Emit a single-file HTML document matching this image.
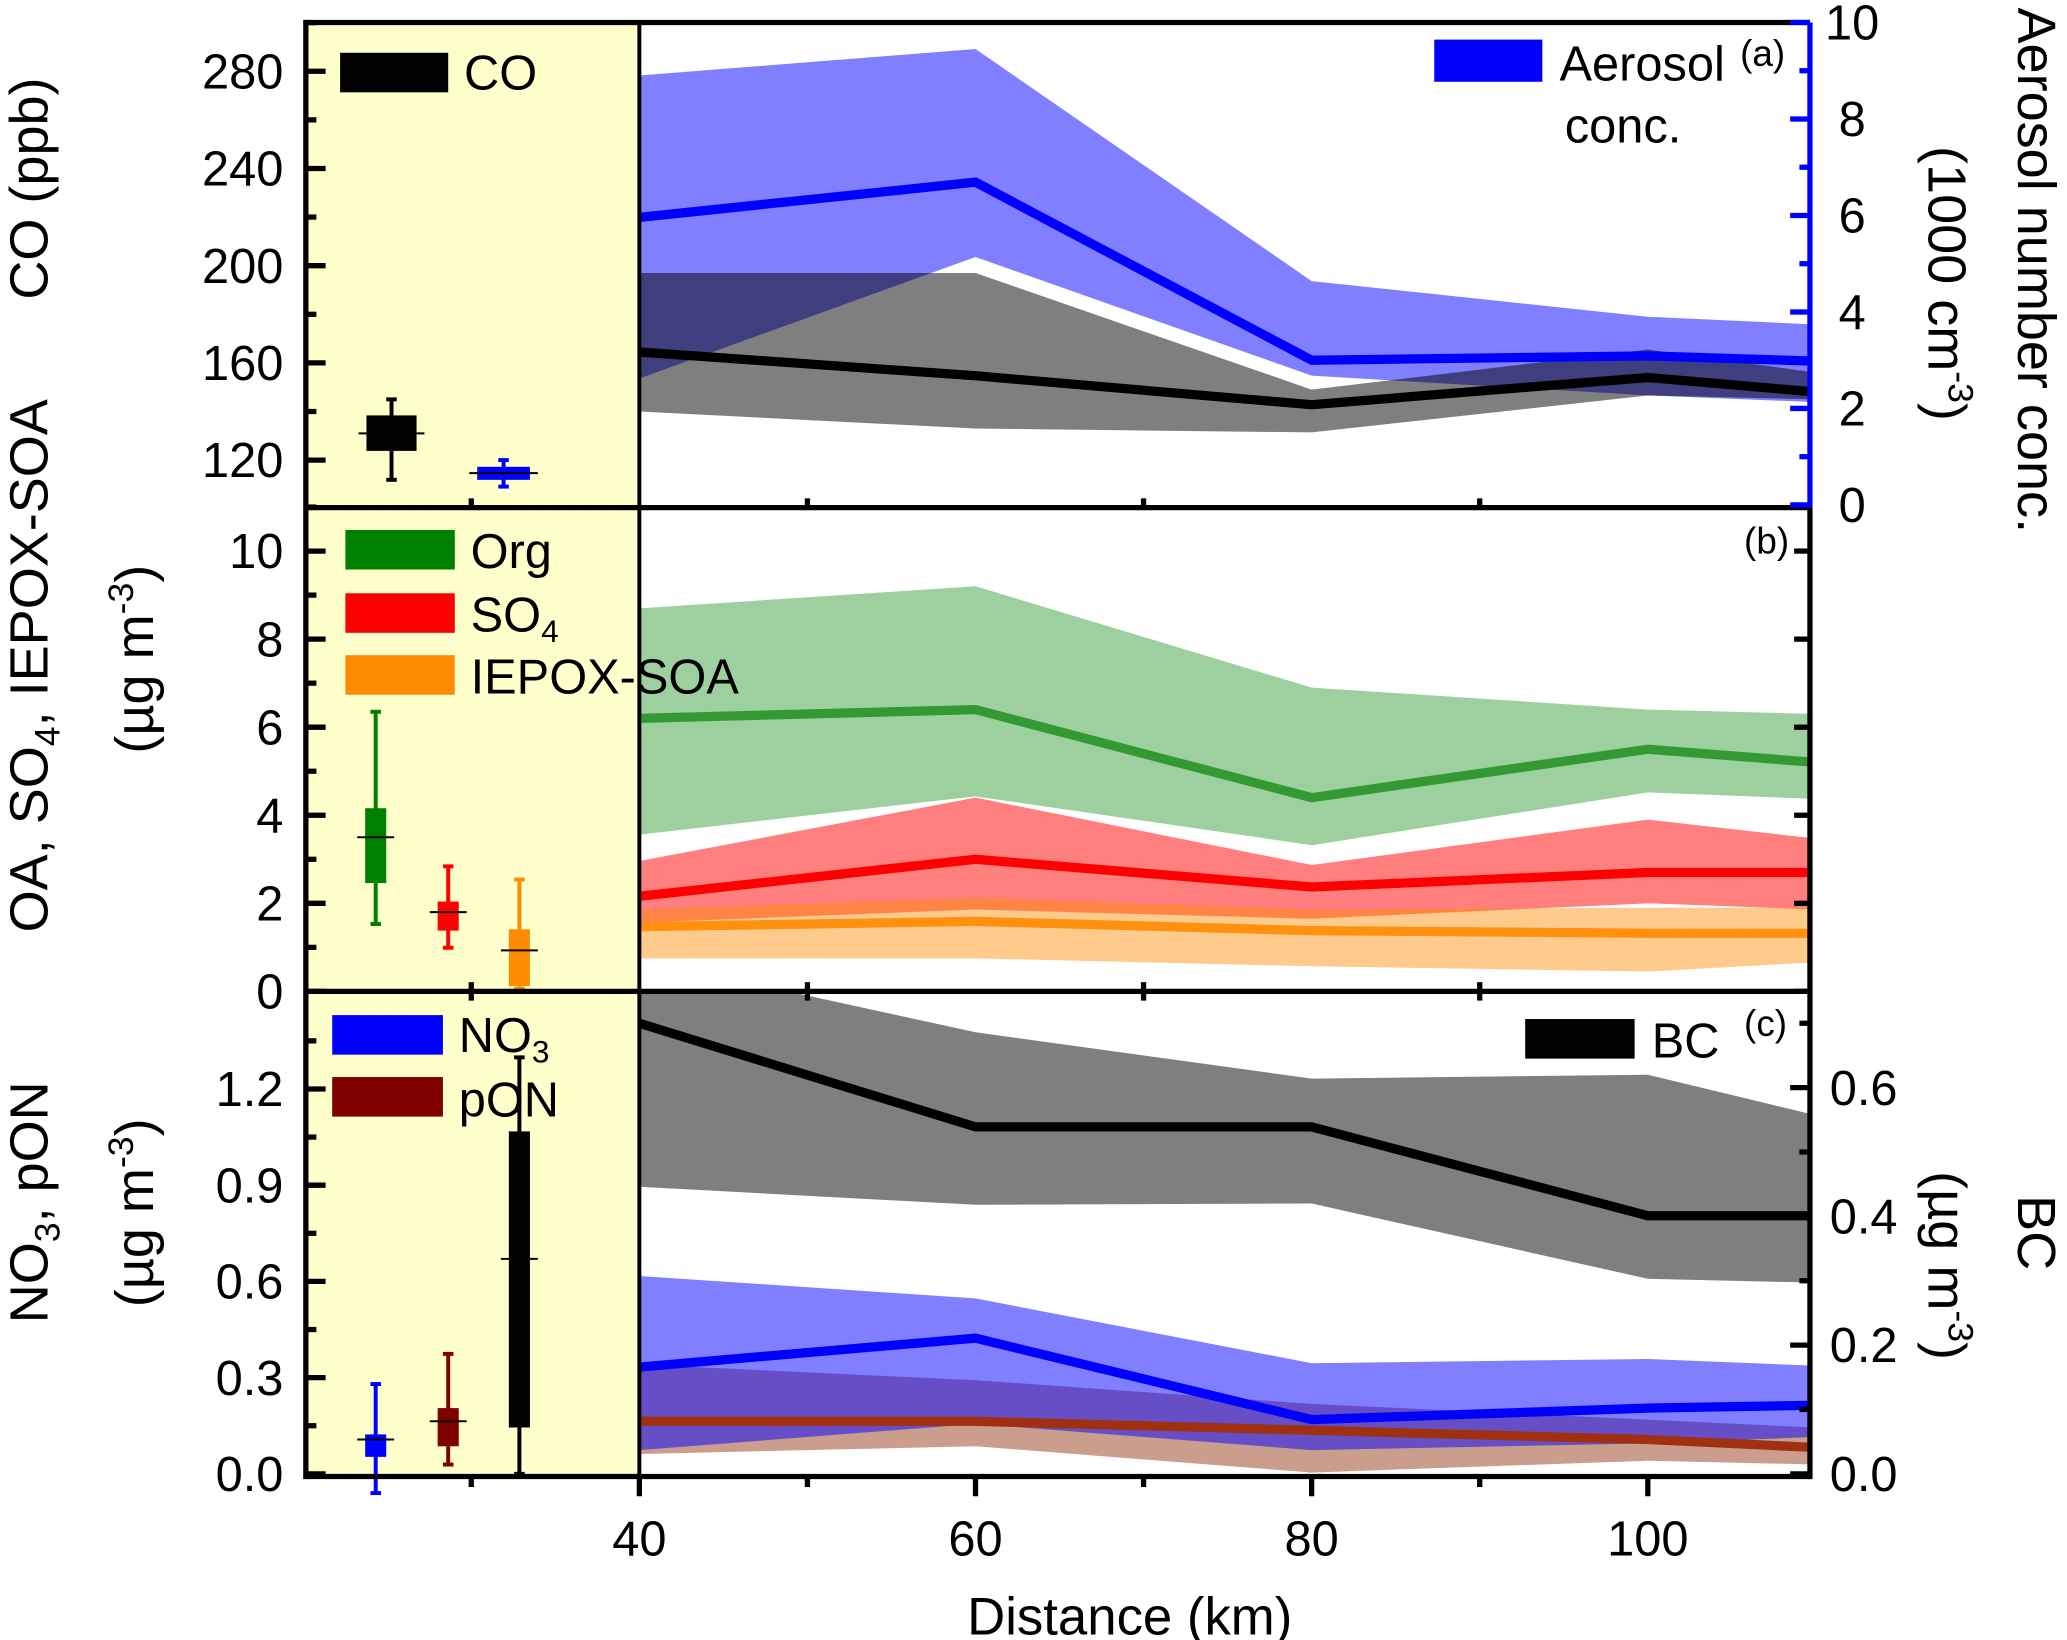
<!DOCTYPE html>
<html><head><meta charset="utf-8"><style>
html,body{margin:0;padding:0;background:#fff}
svg{display:block}
text{font-family:"Liberation Sans",Arial,sans-serif;fill:#000}
</style></head><body>
<svg id="chart" width="2067" height="1640" viewBox="0 0 1568 1244" xmlns="http://www.w3.org/2000/svg">
<g id="bg"></g><g id="bands"></g><g id="lines"></g><g id="boxes"></g><g id="axes"></g><g id="labels"></g>
</svg>
<script>
// ---- data ----
const distances = [40, 60, 80, 100, 110];
const coMean = [164.5, 154.7, 142.8, 154, 148];
const coHigh = [197, 197, 149, 165.5, 156];
const coLow = [140, 133, 131.4, 146.6, 145];
const aerMean = [5.96, 6.69, 3.0, 3.09, 2.98];
const aerHigh = [8.9, 9.45, 4.64, 3.9, 3.74];
const aerLow = [2.62, 5.14, 2.68, 2.27, 2.13];
const orgMean = [6.2, 6.4, 4.4, 5.5, 5.2];
const orgHigh = [8.7, 9.2, 6.9, 6.4, 6.3];
const orgLow = [3.56, 4.43, 3.32, 4.52, 4.37];
const so4Mean = [2.16, 3.0, 2.37, 2.7, 2.7];
const so4High = [2.96, 4.4, 2.87, 3.9, 3.47];
const so4Low = [1.56, 1.86, 1.65, 2.0, 1.86];
const iepMean = [1.47, 1.59, 1.38, 1.32, 1.32];
const iepHigh = [1.86, 2.13, 1.86, 1.9, 1.9];
const iepLow = [0.75, 0.75, 0.57, 0.45, 0.66];
const bcMean = [0.70, 0.539, 0.539, 0.401, 0.401];
const bcHigh = [0.80, 0.686, 0.614, 0.62, 0.557];
const bcLow = [0.446, 0.418, 0.42, 0.303, 0.297];
const no3Mean = [0.333, 0.423, 0.169, 0.205, 0.214];
const no3High = [0.617, 0.547, 0.345, 0.358, 0.337];
const no3Low = [0.074, 0.156, 0.074, 0.095, 0.115];
const ponMean = [0.164, 0.164, 0.136, 0.107, 0.082];
const ponHigh = [0.341, 0.292, 0.218, 0.169, 0.144];
const ponLow = [0.062, 0.086, 0.004, 0.041, 0.029];
// background boxes: [min, q1, median, q3, max]
const boxCO = [111.9, 123.8, 131, 138.4, 145];
const boxAer = [0.38, 0.52, 0.66, 0.79, 0.93];
const boxOrg = [1.53, 2.46, 3.5, 4.16, 6.35];
const boxSO4 = [0.99, 1.38, 1.8, 2.04, 2.84];
const boxIEP = [0.06, 0.12, 0.93, 1.41, 2.54];
const boxNO3 = [-0.06, 0.053, 0.107, 0.123, 0.28];
const boxPON = [0.029, 0.086, 0.164, 0.205, 0.374];
const boxBC = [0.0, 0.072, 0.334, 0.532, 0.647];
const xTicks = [40, 60, 80, 100];
const coTicks = [120, 160, 200, 240, 280];
const aerTicks = [0, 2, 4, 6, 8, 10];
const bTicks = [0, 2, 4, 6, 8, 10];
const cTicks = [0.0, 0.3, 0.6, 0.9, 1.2];
const bcTicks = [0.0, 0.2, 0.4, 0.6];

// ---- layout / scales ----
const L = 232, R = 1373, X40 = 485;
const PA = [17, 385], PB = [385, 752], PC = [752, 1120];
const x = d => X40 + (d - 40) * 12.75;
const yCO = v => 349 - (v - 120) * 1.84375;
const yAer = v => 383 - v * 36.6;
const yB = v => 752 - v * 33.4;
const yC = v => 1118 - v * 243.3;
const yBC = v => 1118 - v * 488.3;
const NS = 'http://www.w3.org/2000/svg';
function mk(parent, tag, attrs) {
  const e = document.createElementNS(NS, tag);
  for (const k in attrs) e.setAttribute(k, attrs[k]);
  document.getElementById(parent).appendChild(e);
  return e;
}
const defs = document.createElementNS(NS, 'defs');
document.getElementById('chart').prepend(defs);
[PA, PB, PC].forEach((p, i) => {
  const cp = document.createElementNS(NS, 'clipPath'); cp.setAttribute('id', 'clip' + i);
  const r = document.createElementNS(NS, 'rect');
  r.setAttribute('x', X40); r.setAttribute('y', p[0]); r.setAttribute('width', R - X40); r.setAttribute('height', p[1] - p[0]);
  cp.appendChild(r); defs.appendChild(cp);
});
let yel = mk('bg', 'rect', {x: L, y: 17, width: X40 - L, height: 1103, fill: '#ffffcc'});



function band(hi, lo, ys, color, op, clip, name) {
  let pts = distances.map((d, i) => x(d) + ',' + ys(hi[i]));
  pts = pts.concat(distances.map((d, i) => x(d) + ',' + ys(lo[i])).reverse());
  const e = mk('bands', 'polygon', {points: pts.join(' '), fill: color, 'fill-opacity': op, 'clip-path': 'url(#clip' + clip + ')'});
  
  
}
function line(m, ys, color, w, clip, name) {
  const e = mk('lines', 'polyline', {points: distances.map((d, i) => x(d) + ',' + ys(m[i])).join(' '), fill: 'none', stroke: color, 'stroke-width': w, 'clip-path': 'url(#clip' + clip + ')'});
  
  
}
band(aerHigh, aerLow, yAer, '#0000ff', 0.5, 0, 'aerosol-band');
band(coHigh, coLow, yCO, '#000', 0.5, 0, 'co-band');
line(coMean, yCO, '#000', 7, 0, 'co-line');
line(aerMean, yAer, '#0000ff', 7, 0, 'aerosol-line');
band(orgHigh, orgLow, yB, '#008000', 0.38, 1, 'org-band');
band(so4High, so4Low, yB, '#ff0000', 0.5, 1, 'so4-band');
band(iepHigh, iepLow, yB, '#ff8c00', 0.45, 1, 'iepox-band');
line(orgMean, yB, '#339933', 7, 1, 'org-line');
line(so4Mean, yB, '#ff0000', 7, 1, 'so4-line');
line(iepMean, yB, '#ff9010', 7, 1, 'iepox-line');
band(bcHigh, bcLow, yBC, '#000', 0.5, 2, 'bc-band');
band(ponHigh, ponLow, yC, '#8b2500', 0.45, 2, 'pon-band');
band(no3High, no3Low, yC, '#0000ff', 0.5, 2, 'no3-band');
line(bcMean, yBC, '#000', 7, 2, 'bc-line');
line(no3Mean, yC, '#0000ff', 7, 2, 'no3-line');
line(ponMean, yC, '#a03010', 7, 2, 'pon-line');

function box(b, ys, cx, w, color, name) {
  const g = document.createElementNS(NS, 'g'); document.getElementById('boxes').appendChild(g);
  
  
  const add = (t, a) => { const e = document.createElementNS(NS, t); for (const k in a) e.setAttribute(k, a[k]); g.appendChild(e); };
  add('line', {x1: cx, x2: cx, y1: ys(b[0]), y2: ys(b[4]), stroke: color, 'stroke-width': 3});
  add('line', {x1: cx - 4, x2: cx + 4, y1: ys(b[0]), y2: ys(b[0]), stroke: color, 'stroke-width': 3});
  add('line', {x1: cx - 4, x2: cx + 4, y1: ys(b[4]), y2: ys(b[4]), stroke: color, 'stroke-width': 3});
  add('rect', {x: cx - w / 2, y: ys(b[3]), width: w, height: ys(b[1]) - ys(b[3]), fill: color});
  add('line', {x1: cx - w / 2 - 6, x2: cx + w / 2 + 6, y1: ys(b[2]), y2: ys(b[2]), stroke: '#000', 'stroke-width': 1.5});
}
box(boxCO, yCO, 297, 38, '#000', 'co-box');
box(boxAer, yAer, 382, 40, '#0000ff', 'aerosol-box');
box(boxOrg, yB, 285, 16, '#008000', 'org-box');
box(boxSO4, yB, 340, 16, '#ff0000', 'so4-box');
box(boxIEP, yB, 394, 16, '#ff8c00', 'iepox-box');
box(boxNO3, yC, 285, 16, '#0000ff', 'no3-box');
box(boxPON, yC, 340, 16, '#800000', 'pon-box');
box(boxBC, yBC, 394, 16, '#000', 'bc-box');

function ax(x1, y1, x2, y2, c, w) { return mk('axes', 'line', {x1, y1, x2, y2, stroke: c || '#000', 'stroke-width': w || 4}); }
ax(L, 17, R, 17); ax(L, 385, R, 385); ax(L, 752, R, 752); ax(L, 1120, R, 1120);
ax(L, 15, L, 1122); ax(R, 385, R, 1122); ax(X40, 17, X40, 1120, '#000', 3);
ax(R, 17, R, 385, '#0000ff', 4);
function txt(s, xx, yy, anchor, size) {
  const e = mk('labels', 'text', {x: xx, y: yy, 'text-anchor': anchor, 'font-size': size});
  e.textContent = s;
  return e;
}
coTicks.forEach(v => { ax(L, yCO(v), L + 15, yCO(v)); ax(L, yCO(v + 20), L + 8, yCO(v + 20)); const t = txt(v, 215, yCO(v) + 13, 'end', 37);   });
aerTicks.forEach(v => { ax(R, yAer(v), R - 15, yAer(v), '#0000ff'); if (v < 10) ax(R, yAer(v + 1), R - 8, yAer(v + 1), '#0000ff'); const t = txt(v, 1405, yAer(v) + 13, 'middle', 37);   });
bTicks.forEach(v => { ax(L, yB(v), L + 15, yB(v)); ax(L, yB(v + 1), L + 8, yB(v + 1)); ax(R, yB(v), R - 12, yB(v)); const t = txt(v, 215, yB(v) + 13, 'end', 37);   });
cTicks.forEach(v => { ax(L, yC(v), L + 15, yC(v)); ax(L, yC(v + 0.15), L + 8, yC(v + 0.15)); const t = txt(v.toFixed(1), 215, yC(v) + 13, 'end', 37);   });
bcTicks.forEach(v => { ax(R, yBC(v), R - 15, yBC(v)); ax(R, yBC(v + 0.1), R - 8, yBC(v + 0.1)); const t = txt(v.toFixed(1), 1388, yBC(v) + 13, 'start', 37);   });
xTicks.forEach(v => { ax(x(v), 1120, x(v), 1135); const t = txt(v, x(v), 1180, 'middle', 37);   });
[30, 50, 70, 90].forEach(v => { ax(x(v), 1120, x(v), 1128); ax(x(v), 385, x(v), 378); ax(x(v), 752, x(v), 745); ax(x(v), 752, x(v), 759); });
</script>
<svg style="position:absolute;left:0;top:0" width="2067" height="1640" viewBox="0 0 1568 1244" xmlns="http://www.w3.org/2000/svg">
<g font-family="Liberation Sans, Arial, sans-serif" fill="#000">
<rect x="258" y="40" width="82" height="30" fill="#000"/>
<text x="352" y="68" font-size="37">CO</text>
<rect x="1088" y="30" width="82" height="32" fill="#0000ff"/>
<text x="1183" y="61" font-size="37">Aerosol</text>
<text x="1187" y="108" font-size="37">conc.</text>
<text x="1320" y="50" font-size="28">(a)</text>
<rect x="262" y="402" width="83" height="30" fill="#008000"/>
<text x="357" y="431" font-size="37">Org</text>
<rect x="262" y="450" width="83" height="30" fill="#ff0000"/>
<text x="357" y="479" font-size="37">SO<tspan font-size="24" dy="8">4</tspan></text>
<rect x="262" y="497" width="83" height="30" fill="#ff8c00"/>
<text x="357" y="526" font-size="37">IEPOX-SOA</text>
<text x="1323" y="420" font-size="28">(b)</text>
<rect x="252" y="770" width="84" height="30" fill="#0000ff"/>
<text x="348" y="798" font-size="37">NO<tspan font-size="24" dy="8">3</tspan></text>
<rect x="252" y="817" width="84" height="30" fill="#800000"/>
<text x="348" y="847" font-size="37">pON</text>
<rect x="1157" y="773" width="83" height="30" fill="#000"/>
<text x="1253" y="802" font-size="37">BC</text>
<text x="1323" y="786" font-size="28">(c)</text>
<text x="857" y="1240" font-size="40" text-anchor="middle">Distance (km)</text>
<text transform="translate(36,143) rotate(-90)" font-size="41" text-anchor="middle">CO (ppb)</text>
<text transform="translate(36,505) rotate(-90)" font-size="41" text-anchor="middle">OA, SO<tspan font-size="27" dy="9">4</tspan><tspan dy="-9">, IEPOX-SOA</tspan></text>
<text transform="translate(116,500) rotate(-90)" font-size="41" text-anchor="middle">(µg m<tspan font-size="27" dy="-15">-3</tspan><tspan dy="15">)</tspan></text>
<text transform="translate(36,912) rotate(-90)" font-size="41" text-anchor="middle">NO<tspan font-size="27" dy="9">3</tspan><tspan dy="-9">, pON</tspan></text>
<text transform="translate(116,920) rotate(-90)" font-size="41" text-anchor="middle">(µg m<tspan font-size="27" dy="-15">-3</tspan><tspan dy="15">)</tspan></text>
<text transform="translate(1531,205) rotate(90)" font-size="41" text-anchor="middle">Aerosol number conc.</text>
<text transform="translate(1463,215) rotate(90)" font-size="41" text-anchor="middle">(1000 cm<tspan font-size="27" dy="-15">-3</tspan><tspan dy="15">)</tspan></text>
<text transform="translate(1531,935) rotate(90)" font-size="41" text-anchor="middle">BC</text>
<text transform="translate(1463,960) rotate(90)" font-size="41" text-anchor="middle">(µg m<tspan font-size="27" dy="-15">-3</tspan><tspan dy="15">)</tspan></text>
</g>
</svg>
</body></html>
